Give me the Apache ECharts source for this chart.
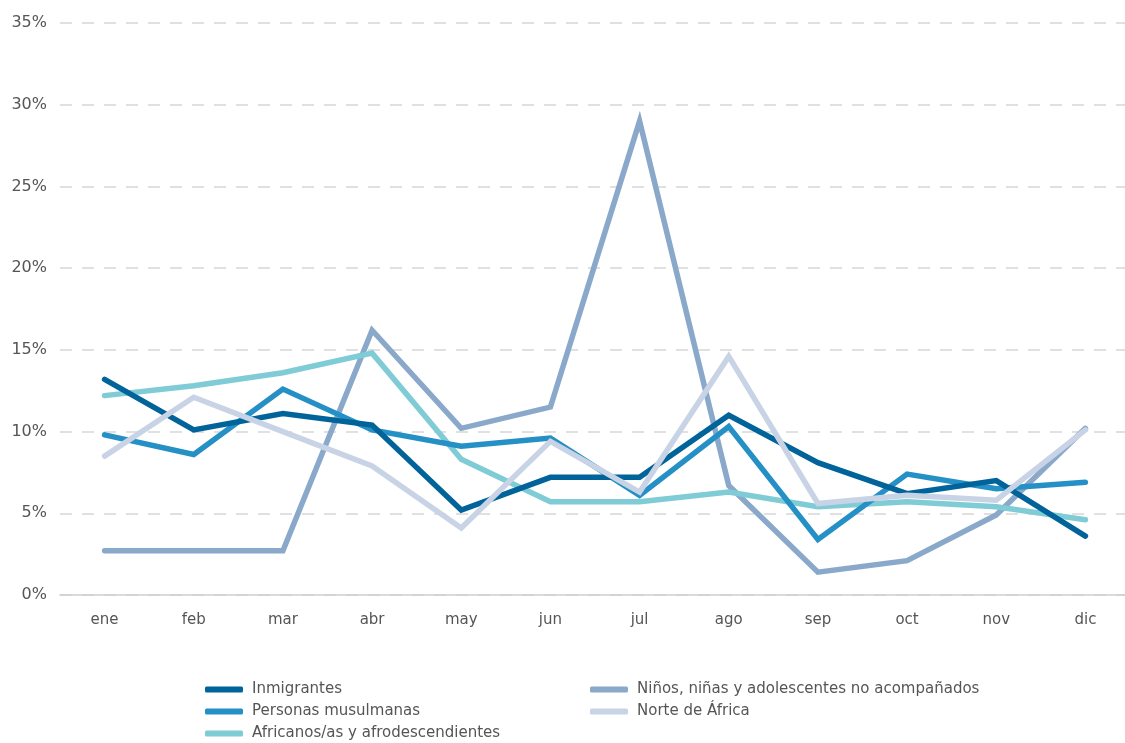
<!DOCTYPE html>
<html>
<head>
<meta charset="utf-8">
<script src="https://cdn.jsdelivr.net/npm/echarts@6/dist/echarts.min.js"></script>
<style>
	html, body {margin: 0; padding: 0; background: #fff; overflow: hidden;}
	#chart {width: 1130px; height: 743px;}
</style>
</head>
<body>
<div id="chart"></div>
<script>
const months = ['ene', 'feb', 'mar', 'abr', 'may', 'jun', 'jul', 'ago', 'sep', 'oct', 'nov', 'dic'];

const inmigrantes = [13.2, 10.1, 11.1, 10.4, 5.2, 7.2, 7.2, 11.0, 8.1, 6.2, 7.0, 3.6];
const musulmanas = [9.8, 8.6, 12.6, 10.1, 9.1, 9.6, 6.1, 10.3, 3.4, 7.4, 6.5, 6.9];
const africanos = [12.2, 12.8, 13.6, 14.8, 8.3, 5.7, 5.7, 6.3, 5.4, 5.7, 5.4, 4.6];
const menores = [2.7, 2.7, 2.7, 16.2, 10.2, 11.5, 29.0, 6.7, 1.4, 2.1, 4.9, 10.2];
const norteAfrica = [8.5, 12.1, 10.0, 7.9, 4.1, 9.4, 6.3, 14.6, 5.6, 6.1, 5.8, 10.1];

const names = ['Inmigrantes', 'Personas musulmanas', 'Africanos/as y afrodescendientes',
	'Niños, niñas y adolescentes no acompañados', 'Norte de África'];
const colors = ['#00639a', '#2590c5', '#7fcbd6', '#8aa8ca', '#c8d3e5'];
const values = [inmigrantes, musulmanas, africanos, menores, norteAfrica];

const font = "'DejaVu Sans', sans-serif";

// one legend per entry, laid out in two columns
const legendSpots = [[204, 681], [204, 703], [204, 725], [589, 681], [589, 703]];
const legend = names.map((name, i) => ({
	left: legendSpots[i][0],
	top: legendSpots[i][1],
	padding: 1,
	data: [name],
	itemWidth: 38,
	itemHeight: 6,
	icon: 'roundRect',
	textStyle: {color: '#555', fontSize: 15, fontFamily: font, padding: [0, 0, 0, 4]}
}));

const chart = echarts.init(document.getElementById('chart'));
chart.setOption({
	animation: false,
	grid: {top: 23, left: 60, right: 0, bottom: 148, containLabel: false},
	legend,
	xAxis: {
		type: 'category',
		data: months,
		boundaryGap: true,
		axisLine: {lineStyle: {color: '#d0d0d0', width: 1.5}},
		axisTick: {show: false},
		axisLabel: {color: '#555', fontSize: 15, fontFamily: font, margin: 18}
	},
	yAxis: {
		type: 'value',
		min: 0,
		max: 35,
		interval: 5,
		axisLine: {show: false},
		axisTick: {show: false},
		axisLabel: {color: '#555', fontSize: 16, fontFamily: font, margin: 13, formatter: '{value}%'},
		splitLine: {lineStyle: {color: '#d6d6d6', type: [12, 10], width: 1.5}}
	},
	series: values.map((data, i) => ({
		name: names[i],
		type: 'line',
		data,
		symbol: 'none',
		z: [5, 4, 3, 2, 6][i],
		itemStyle: {color: colors[i]},
		lineStyle: {color: colors[i], width: 5.5, join: 'miter', cap: 'round'}
	}))
});
</script>
</body>
</html>
